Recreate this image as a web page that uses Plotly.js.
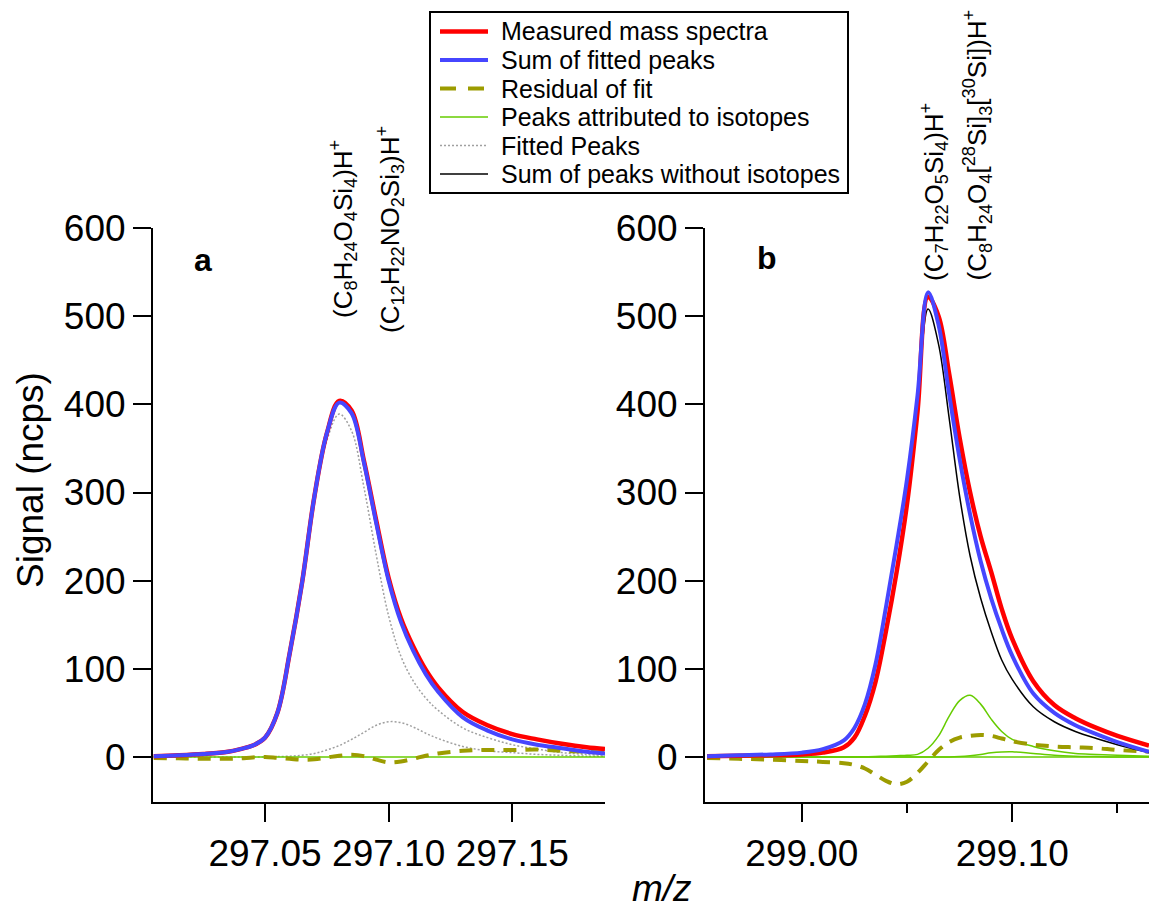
<!DOCTYPE html>
<html><head><meta charset="utf-8">
<script src="https://cdn.plot.ly/plotly-3.0.1.min.js"></script>
<style>html,body{margin:0;padding:0;background:#fff}#chart{width:1149px;height:911px}</style>
</head><body><div id="chart"></div>
<script>
// ---------- Panel a data (m/z 297) ----------
const mzA = [297.005, 297.015, 297.025, 297.035, 297.040, 297.045, 297.050, 297.055, 297.060, 297.065, 297.070, 297.075, 297.080, 297.085, 297.090, 297.095, 297.100, 297.105, 297.110, 297.115, 297.120, 297.130, 297.140, 297.150, 297.160, 297.170, 297.180, 297.1875];
const measuredA = [1, 2, 3.5, 6, 9, 13, 22, 50, 118, 198, 296, 367, 404, 393, 336, 268, 203, 157, 125, 99, 79, 51, 36, 26, 20, 15, 11, 9];
const fitSumA = [1, 2, 3.5, 6, 9, 13, 22, 50, 118, 198, 296, 367, 402, 390, 334, 265, 200, 153, 120, 94, 74, 45, 30, 20, 14, 10, 6, 4];
const residualA = [-1, -1.5, -2, -2, -1.5, -0.5, 0, -1, -2, -3, -2.5, -0.5, 1.5, 2.5, 1, -3, -6, -5, -2, 1.5, 4, 7, 8, 8, 8.5, 7, 6, 5];
const isotopeA = [0, 0, 0, 0, 0, 0, 0, 0, 0, 0, 0, 0, 0, 0, 0, 0, 0, 0, 0, 0, 0, 0, 0, 0, 0, 0, 0, 0];
const fitPeak1A = [1, 2, 3.5, 6, 9, 13, 22, 49.5, 117, 196, 292, 359, 389, 370, 306, 229, 160, 114, 86, 67, 53, 33, 22, 14, 9, 5, 3, 2];
const fitPeak2A = [0, 0, 0, 0, 0, 0, 0, 0.5, 1, 2, 4, 8, 13, 20, 28, 36, 40, 39, 34, 27, 21, 12, 7, 5, 3, 2, 1, 1];

// ---------- Panel b data (m/z 299) ----------
const mzB = [298.955, 298.970, 298.985, 299.000, 299.010, 299.020, 299.025, 299.030, 299.035, 299.040, 299.045, 299.050, 299.055, 299.060, 299.065, 299.070, 299.075, 299.080, 299.085, 299.090, 299.095, 299.100, 299.110, 299.120, 299.130, 299.140, 299.150, 299.165];
const measuredB = [1, 1.5, 2, 3, 5, 11, 22, 47, 85, 143, 209, 287, 392, 522, 500, 435, 362, 300, 250, 210, 168, 134, 86, 59, 44, 33, 24, 13];
const fitSumB = [1, 2, 3, 5, 9, 19, 33, 60, 105, 170, 240, 315, 410, 527, 490, 412, 338, 275, 222, 180, 145, 115, 72, 50, 36, 26, 17, 6];
const residualB = [-1, -2, -3, -4.5, -5.5, -7, -9, -13, -20, -27, -31, -28, -18, -5, 8, 17, 22, 24, 25, 24, 21, 18, 14, 12, 11, 10, 8, 6];
const isotope1B = [0, 0, 0, 0, 0, 0, 0, 0.3, 0.6, 1, 1.5, 2, 3, 10, 24, 46, 64, 70, 60, 43, 29, 20, 12, 7, 4, 3, 2, 1];
const isotope2B = [0, 0, 0, 0, 0, 0, 0, 0, 0, 0, 0, 0, 0, 0, 0, 0, 0.5, 1.5, 3, 4.8, 5.8, 6, 4, 2, 1, 0.5, 0, 0];
const isotope3B = [0, 0, 0, 0, 0, 0, 0, 0, 0, 0, 0, 0, 0, 0, 0, 0, 0, 0, 0, 0, 0, 0, 0, 0, 0, 0, 0, 0];
const noIsoB = [1, 2, 3, 5, 9, 19, 33, 59, 104, 168, 238, 312, 405, 508, 468, 385, 296, 228, 180, 142, 110, 88, 57, 40, 29, 21, 14, 5];

// ---------- Text ----------
const legendNames = ["Measured mass spectra", "Sum of fitted peaks", "Residual of fit", "Peaks attributed to isotopes", "Fitted Peaks", "Sum of peaks without isotopes"];
const yTitle = "Signal (ncps)";
const xTitle = "<i>m/z</i>";
const panelLabels = ["<b>a</b>", "<b>b</b>"];
const labelsA = ["(C<sub>8</sub>H<sub>24</sub>O<sub>4</sub>Si<sub>4</sub>)H<sup>+</sup>", "(C<sub>12</sub>H<sub>22</sub>NO<sub>2</sub>Si<sub>3</sub>)H<sup>+</sup>"];
const labelsB = ["(C<sub>7</sub>H<sub>22</sub>O<sub>5</sub>Si<sub>4</sub>)H<sup>+</sup>", "(C<sub>8</sub>H<sub>24</sub>O<sub>4</sub>[<sup>28</sup>Si]<sub>3</sub>[<sup>30</sup>Si])H<sup>+</sup>"];

const FONT = "Liberation Sans, Arial, sans-serif";
const styles = {
  meas: {color: "#ff0000", width: 4.5},
  sum: {color: "#4646ff", width: 4},
  resid: {color: "#9c9c00", width: 4, dash: "13px,9px"},
  iso: {color: "#66cc00", width: 1.5},
  fit: {color: "#a0a0a0", width: 1.5, dash: "2px,2px"},
  noiso: {color: "#000000", width: 1.5}
};
function tr(x, y, name, st, ax) {
  return {x: x, y: y, type: "scatter", mode: "lines", name: name,
    line: Object.assign({shape: "spline", smoothing: 1}, st),
    xaxis: ax[0], yaxis: ax[1], showlegend: false, hoverinfo: "skip"};
}
const A = ["x", "y"], B = ["x2", "y2"];
const data = [
  // panel a (drawing order: fitted peaks, isotopes, residual, measured, fit sum)
  tr(mzA, fitPeak1A, legendNames[4], styles.fit, A),
  tr(mzA, fitPeak2A, legendNames[4], styles.fit, A),
  tr(mzA, isotopeA, legendNames[3], styles.iso, A),
  tr(mzA, residualA, legendNames[2], styles.resid, A),
  tr(mzA, measuredA, legendNames[0], styles.meas, A),
  tr(mzA, fitSumA, legendNames[1], styles.sum, A),
  // panel b
  tr(mzB, isotope3B, legendNames[3], styles.iso, B),
  tr(mzB, isotope2B, legendNames[3], styles.iso, B),
  tr(mzB, isotope1B, legendNames[3], styles.iso, B),
  tr(mzB, residualB, legendNames[2], styles.resid, B),
  tr(mzB, noIsoB, legendNames[5], styles.noiso, B),
  tr(mzB, measuredB, legendNames[0], styles.meas, B),
  tr(mzB, fitSumB, legendNames[1], styles.sum, B)
];

const W = 1149, H = 911;
const px = v => v / W, py = v => 1 - v / H;
const tickFont = {family: FONT, size: 37, color: "#000"};
const axBase = {showline: true, linewidth: 2, linecolor: "#000", ticks: "outside", ticklen: 18, tickwidth: 2,
  tickcolor: "#000", showgrid: false, zeroline: false, tickfont: tickFont, fixedrange: true};
const yBase = Object.assign({}, axBase, {range: [-51, 600], dtick: 100, tick0: 0, domain: [py(802), py(228)]});

// legend drawn in paper space: box, sample lines, labels
const legendRowsY = [31.5, 60, 88.5, 117, 145.5, 174];
const legendStyles = [styles.meas, styles.sum, Object.assign({}, styles.resid, {dash: "16px,12px"}), styles.iso, styles.fit, styles.noiso];
const shapes = [{type: "rect", xref: "paper", yref: "paper", x0: px(430), x1: px(848), y0: py(193), y1: py(12),
  line: {color: "#000", width: 2}, fillcolor: "rgba(255,255,255,1)", layer: "above"}];
const annotations = [];
legendNames.forEach((name, i) => {
  const ls = legendStyles[i];
  shapes.push({type: "line", xref: "paper", yref: "paper", x0: px(440), x1: px(488), y0: py(legendRowsY[i]), y1: py(legendRowsY[i]),
    line: {color: ls.color, width: ls.width, dash: ls.dash || "solid"}, layer: "above"});
  annotations.push({text: name, x: px(499), y: py(legendRowsY[i]), xref: "paper", yref: "paper", xanchor: "left", yanchor: "middle",
    showarrow: false, font: {family: FONT, size: 25, color: "#000"}});
});
const ann = (text, x, y, size, opts) => Object.assign({text: text, x: px(x), y: py(y), xref: "paper", yref: "paper",
  xanchor: "center", yanchor: "middle", showarrow: false, font: {family: FONT, size: size, color: "#000"}}, opts || {});
annotations.push(
  ann(panelLabels[0], 203, 260, 32),
  ann(panelLabels[1], 767, 258, 32),
  ann(labelsA[0], 343, 229, 26, {textangle: -90}),
  ann(labelsA[1], 390, 229, 26, {textangle: -90}),
  ann(labelsB[0], 934, 283, 26, {textangle: -90, yanchor: "bottom"}),
  ann(labelsB[1], 977, 283, 26, {textangle: -90, yanchor: "bottom"}),
  ann(yTitle, 30, 480, 37, {textangle: -90}),
  ann(xTitle, 662, 911, 37, {yanchor: "bottom"})
);

const layout = {
  width: W, height: H,
  margin: {l: 0, r: 0, t: 0, b: 0},
  paper_bgcolor: "#fff", plot_bgcolor: "rgba(0,0,0,0)",
  font: {family: FONT, color: "#000"},
  showlegend: false,
  xaxis: Object.assign({}, axBase, {domain: [px(153), px(605)], range: [297.0047, 297.1875], dtick: 0.05, tick0: 297.05, tickformat: ".2f", anchor: "y"}),
  yaxis: Object.assign({}, yBase, {anchor: "x"}),
  xaxis2: Object.assign({}, axBase, {domain: [px(705), 1], range: [298.954, 299.165], dtick: 0.1, tick0: 299, tickformat: ".2f", anchor: "y2",
    minor: {dtick: 0.05, tick0: 299, ticks: "outside", ticklen: 9, tickwidth: 2, tickcolor: "#000"}}),
  yaxis2: Object.assign({}, yBase, {anchor: "x2"}),
  shapes: shapes,
  annotations: annotations
};
Plotly.newPlot("chart", data, layout, {staticPlot: true, displayModeBar: false});
</script></body></html>
